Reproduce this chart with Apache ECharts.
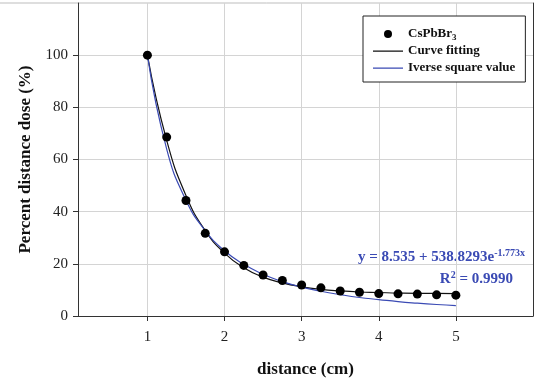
<!DOCTYPE html>
<html>
<head>
<meta charset="utf-8">
<script src="https://cdn.jsdelivr.net/npm/echarts@6/dist/echarts.min.js"></script>
<style>
  html, body { margin: 0; padding: 0; background: #fff; }
  #chart { width: 552px; height: 383px; }
</style>
</head>
<body>
<div id="chart"></div>
<script>
// distance in cm
const distance = [1, 1.25, 1.5, 1.75, 2, 2.25, 2.5, 2.75, 3, 3.25, 3.5, 3.75, 4, 4.25, 4.5, 4.75, 5]
// measured points (CsPbBr3)
const measured = [100, 68.6, 44.3, 31.7, 24.6, 19.4, 15.7, 13.6, 11.9, 10.8, 9.6, 9.1, 8.6, 8.5, 8.4, 8.1, 8.0]
// black fitted curve
const fitted = [100, 67.3, 46.2, 32.7, 24.1, 18.5, 14.9, 12.7, 11.2, 10.2, 9.6, 9.2, 9.0, 8.8, 8.7, 8.7, 8.6]
// blue inverse square curve
const inverse = [100, 64, 44.4, 32.7, 25, 19.8, 16, 13.2, 11.1, 9.5, 8.2, 7.1, 6.3, 5.5, 4.9, 4.4, 4.0]
const xTicks = [1, 2, 3, 4, 5]
const yTicks = [0, 20, 40, 60, 80, 100]

const pairs = (ys) => distance.map((x, i) => [x, ys[i]])
const serif = "'Liberation Serif', 'Times New Roman', serif"
const blue = "#3a4ab4"
const supStyle = {fontFamily: serif, fontWeight: "bold", fontSize: 10, fill: blue, verticalAlign: "top", padding: [0, 0, 9, 0]}
// thin line icon for the legend (tiny corner marks keep the 30x8 box)
const lineIcon = "path://M0,0L0.01,0L0,0.01Z M0,3.5L30,3.5L30,4.7L0,4.7Z M30,8L29.99,8L30,7.99Z"

const chart = echarts.init(document.getElementById("chart"))
chart.setOption({
    animation: false,
    backgroundColor: "#fff",
    grid: {left: 78, right: 19, top: 3, bottom: 65},
    legend: {
        orient: "vertical",
        left: 363,
        top: 16,
        padding: [10, 10, 6, 10],
        itemWidth: 30,
        itemHeight: 8,
        itemGap: 1,
        backgroundColor: "#fff",
        borderColor: "#222",
        borderWidth: 1,
        textStyle: {
            fontFamily: serif,
            fontWeight: "bold",
            fontSize: 13,
            color: "#111",
            lineHeight: 16,
            rich: {
                sub: {fontFamily: serif, fontWeight: "bold", fontSize: 9, verticalAlign: "bottom", padding: [6, 0, 0, 0]}
            }
        },
        formatter: (name) => name === "CsPbBr3" ? "CsPbBr{sub|3}" : name,
        data: [
            {name: "CsPbBr3", icon: "circle"},
            {name: "Curve fitting", icon: lineIcon},
            {name: "Iverse square value", icon: lineIcon}
        ]
    },
    xAxis: {
        type: "value",
        min: 0.1,
        max: 6,
        name: "distance (cm)",
        nameLocation: "middle",
        nameGap: 45,
        nameTextStyle: {fontFamily: serif, fontWeight: "bold", fontSize: 17, color: "#111"},
        axisLine: {lineStyle: {color: "#333", width: 1}},
        axisTick: {show: true, length: 5, lineStyle: {color: "#333"}, customValues: xTicks},
        axisLabel: {fontFamily: serif, fontSize: 15, color: "#222", margin: 14, customValues: xTicks},
        splitLine: {show: true, lineStyle: {color: "#d4d4d4", width: 1}}
    },
    yAxis: [{
        type: "value",
        min: 0,
        max: 120,
        interval: 20,
        name: "Percent distance dose (%)",
        nameLocation: "middle",
        nameGap: 42,
        nameTextStyle: {fontFamily: serif, fontWeight: "bold", fontSize: 17, color: "#111"},
        axisLine: {show: true, lineStyle: {color: "#333", width: 1}},
        axisTick: {show: true, length: 5, lineStyle: {color: "#333"}, customValues: yTicks},
        axisLabel: {fontFamily: serif, fontSize: 15, color: "#222", margin: 10, customValues: yTicks},
        splitLine: {show: true, lineStyle: {color: "#d4d4d4", width: 1}}
    }, {
        type: "value",
        min: 0,
        max: 120,
        position: "right",
        axisLine: {show: true, lineStyle: {color: "#333", width: 1}},
        axisTick: {show: false},
        axisLabel: {show: false},
        splitLine: {show: false}
    }],
    graphic: [
        {
            type: "line",
            shape: {x1: 0, y1: 3, x2: 533, y2: 3},
            style: {stroke: "#bdbdbd", lineWidth: 1},
            z: -1
        },
        {
            type: "text",
            right: 27,
            top: 248,
            style: {
                text: "y = 8.535 + 538.8293e{sup|-1.773x}",
                fontFamily: serif, fontWeight: "bold", fontSize: 15, fill: blue,
                rich: {sup: supStyle}
            }
        },
        {
            type: "text",
            right: 39,
            top: 270,
            style: {
                text: "R{sup|2} = 0.9990",
                fontFamily: serif, fontWeight: "bold", fontSize: 15, fill: blue,
                rich: {sup: supStyle}
            }
        }
    ],
    series: [
        {
            name: "Curve fitting",
            type: "line",
            data: pairs(fitted),
            smooth: true,
            symbol: "none",
            lineStyle: {color: "#111", width: 1.2},
            itemStyle: {color: "#111"},
            z: 2
        },
        {
            name: "Iverse square value",
            type: "line",
            data: pairs(inverse),
            smooth: true,
            symbol: "none",
            lineStyle: {color: blue, width: 1.2},
            itemStyle: {color: blue},
            z: 3
        },
        {
            name: "CsPbBr3",
            type: "scatter",
            data: pairs(measured),
            symbol: "circle",
            symbolSize: 9,
            itemStyle: {color: "#000", opacity: 1},
            z: 4
        }
    ]
})
</script>
</body>
</html>
